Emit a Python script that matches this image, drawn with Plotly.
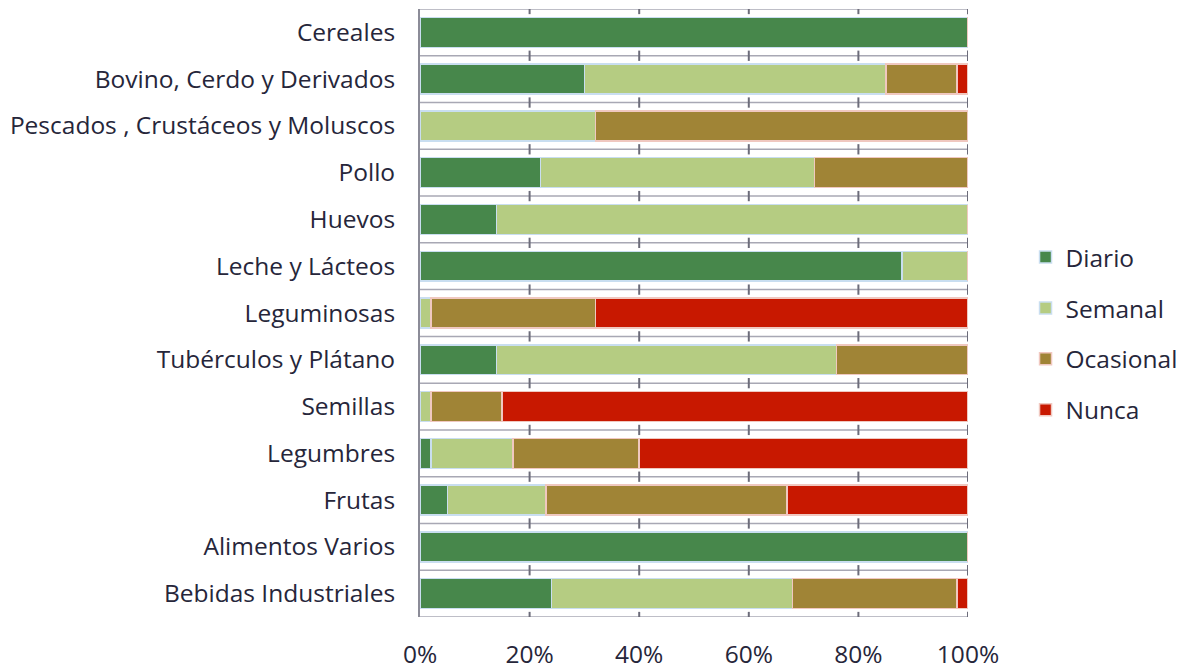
import plotly.graph_objects as go

categories = ["Cereales", "Bovino, Cerdo y Derivados", "Pescados , Crustáceos y Moluscos",
              "Pollo", "Huevos", "Leche y Lácteos", "Leguminosas", "Tubérculos y Plátano",
              "Semillas", "Legumbres", "Frutas", "Alimentos Varios", "Bebidas Industriales"]
diario =    [100, 30, 0, 22, 14, 88, 0, 14, 0, 2, 5, 100, 24]
semanal =   [0, 55, 32, 50, 86, 12, 2, 62, 2, 15, 18, 0, 44]
ocasional = [0, 13, 68, 28, 0, 0, 30, 24, 13, 23, 44, 0, 30]
nunca =     [0, 2, 0, 0, 0, 0, 68, 0, 85, 60, 33, 0, 2]
x_ticks = [0, 20, 40, 60, 80, 100]
x_tick_labels = ["0%", "20%", "40%", "60%", "80%", "100%"]

series = [
    ("Diario", diario, "#47874B", "#c9def0"),
    ("Semanal", semanal, "#B5CC82", "#c9def0"),
    ("Ocasional", ocasional, "#A08436", "#f0c8c0"),
    ("Nunca", nunca, "#C81800", "#f0c8c0"),
]

fig = go.Figure()
for name, vals, color, edge in series:
    fig.add_trace(go.Bar(
        y=categories, x=vals, name=name, orientation="h",
        marker=dict(color=color, line=dict(color=edge, width=1.5)),
        legendgroup=name,
    ))

# row separator lines with tick marks (as in the reference)
shapes = []
grid_col = "#a8a8b4"
for i in range(len(categories) + 1):
    yb = i - 0.5
    shapes.append(dict(type="line", xref="x", yref="y", x0=0, x1=100, y0=yb, y1=yb,
                       line=dict(color=grid_col, width=1.5), layer="below"))
    for t in x_ticks[1:]:
        shapes.append(dict(type="line", xref="x", yref="y", x0=t, x1=t,
                           y0=yb - 0.11, y1=yb + 0.11,
                           line=dict(color="#6c6c7a", width=2), layer="below"))

n = len(categories)
# page body has an 8px default margin, so the figure is sized to fit the window
fig.update_layout(
    barmode="stack",
    bargap=0.36,
    width=1176, height=660,
    margin=dict(l=412, r=216, t=1, b=51, autoexpand=False),
    plot_bgcolor="white", paper_bgcolor="white",
    font=dict(family="Open Sans", size=24.5, color="#26263a"),
    shapes=shapes,
    legend=dict(x=1.105, y=0.466, xanchor="left", yanchor="middle",
                traceorder="grouped", tracegroupgap=16,
                font=dict(size=24.5, color="#26263a")),
    xaxis=dict(range=[0, 100], tickvals=x_ticks, ticktext=x_tick_labels,
               showgrid=False, zeroline=False, showline=False, ticks="",
               automargin=False,
               ticklabelstandoff=20, tickfont=dict(size=24.5)),
    yaxis=dict(range=[n - 0.5, -0.5], showgrid=False, showline=True,
               linecolor="#8c8c98", linewidth=2, ticks="", automargin=False,
               ticklabelstandoff=18, tickfont=dict(size=24.5)),
)

fig.write_html("out.html")
